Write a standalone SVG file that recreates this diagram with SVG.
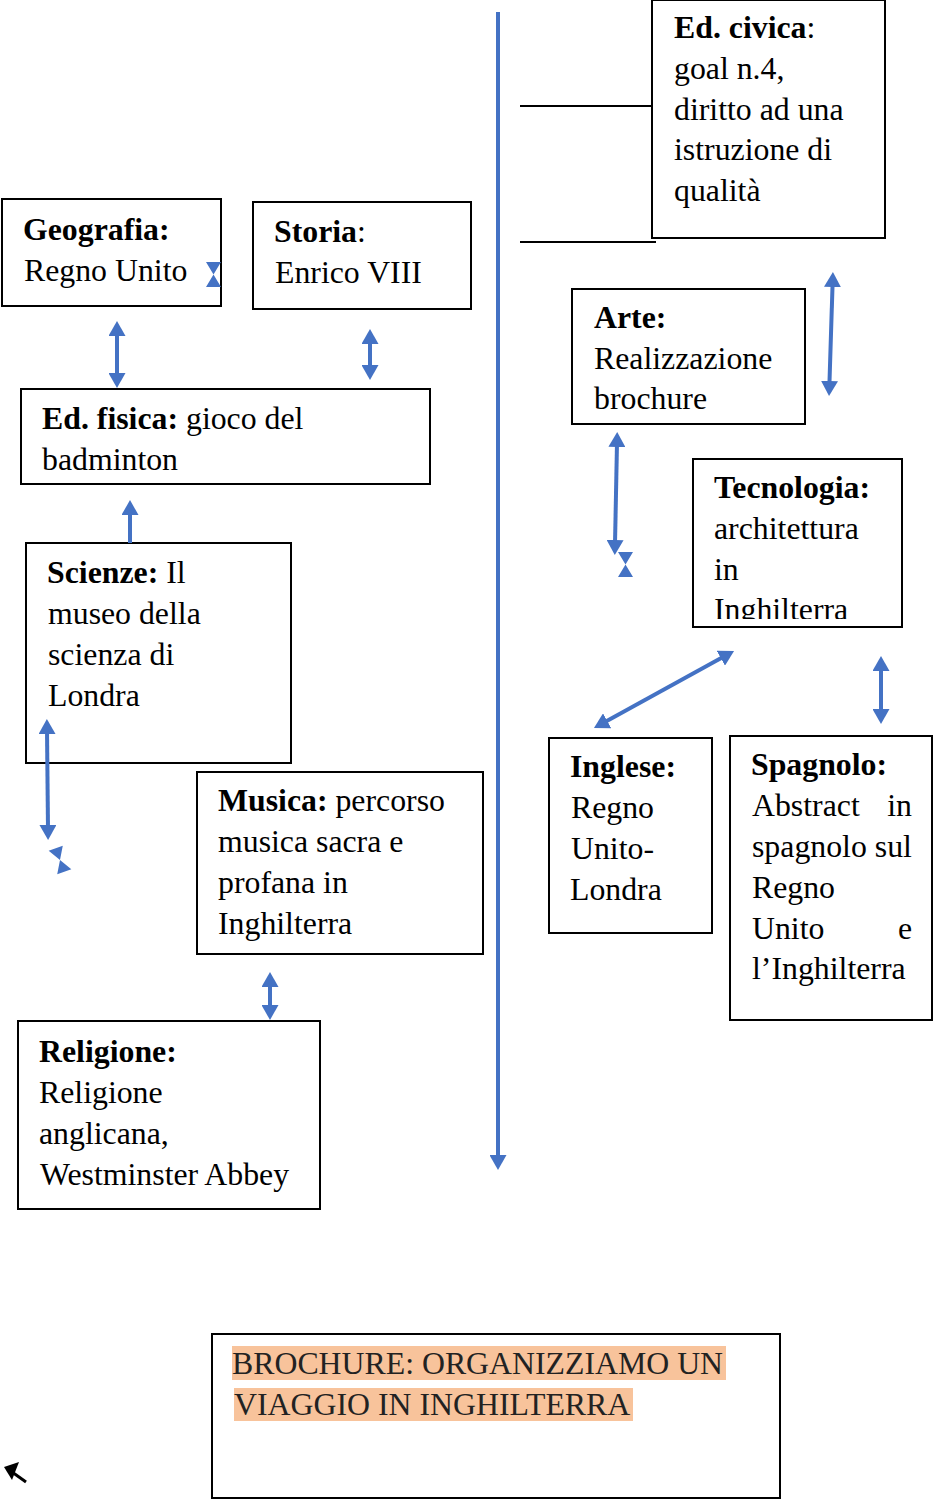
<svg xmlns="http://www.w3.org/2000/svg" width="934" height="1500" viewBox="0 0 934 1500">
<style>
  .box{fill:#fff;stroke:#000;stroke-width:2}
  .t{font-family:"Liberation Serif","Times New Roman",serif;font-size:31.8px;fill:#000}
  .b{font-weight:bold}
  .arr{stroke:#4472C4;stroke-width:4;fill:none}
  .blue{fill:#4472C4}
  .hl{fill:#F8C39B}
</style>
<defs>
  <marker id="ah" viewBox="0 0 15 17" markerWidth="15" markerHeight="17" refX="4" refY="8.5" orient="auto-start-reverse" markerUnits="userSpaceOnUse">
    <path d="M0,0 L15,8.5 L0,17 z" fill="#4472C4"/>
  </marker>
  <clipPath id="tecClip"><rect x="693" y="459" width="209" height="160"/></clipPath>
</defs>

<g id="ed-civica">
  <rect class="box" x="652" y="0" width="233" height="238"/>
  <text class="t" x="674" y="38"><tspan class="b">Ed. civica</tspan>:</text>
  <text class="t" x="674" y="79">goal n.4,</text>
  <text class="t" x="674" y="120">diritto ad una</text>
  <text class="t" x="674" y="160">istruzione di</text>
  <text class="t" x="674" y="201">qualità</text>
</g>
<g id="geografia">
  <rect class="box" x="2" y="199" width="219" height="107"/>
  <text class="t b" x="23" y="240">Geografia:</text>
  <text class="t" x="24" y="281">Regno Unito</text>
</g>
<g id="storia">
  <rect class="box" x="253" y="202" width="218" height="107"/>
  <text class="t" x="274" y="242"><tspan class="b">Storia</tspan>:</text>
  <text class="t" x="275" y="283">Enrico VIII</text>
</g>
<g id="arte">
  <rect class="box" x="572" y="289" width="233" height="135"/>
  <text class="t b" x="594" y="328">Arte:</text>
  <text class="t" x="594" y="369">Realizzazione</text>
  <text class="t" x="594" y="409">brochure</text>
</g>
<g id="ed-fisica">
  <rect class="box" x="21" y="389" width="409" height="95"/>
  <text class="t" x="42" y="429"><tspan class="b">Ed. fisica:</tspan> gioco del</text>
  <text class="t" x="42" y="470">badminton</text>
</g>
<g id="tecnologia">
  <rect class="box" x="693" y="459" width="209" height="168"/>
  <g clip-path="url(#tecClip)">
    <text class="t b" x="714" y="498">Tecnologia:</text>
    <text class="t" x="714" y="539">architettura</text>
    <text class="t" x="714" y="580">in</text>
    <text class="t" x="714" y="620">Inghilterra</text>
  </g>
</g>
<g id="scienze">
  <rect class="box" x="26" y="543" width="265" height="220"/>
  <text class="t" x="47" y="583"><tspan class="b">Scienze:</tspan> Il</text>
  <text class="t" x="48" y="624">museo della</text>
  <text class="t" x="48" y="665">scienza di</text>
  <text class="t" x="48" y="706">Londra</text>
</g>
<g id="inglese">
  <rect class="box" x="549" y="738" width="163" height="195"/>
  <text class="t b" x="570" y="777">Inglese:</text>
  <text class="t" x="571" y="818">Regno</text>
  <text class="t" x="571" y="859">Unito-</text>
  <text class="t" x="570" y="900">Londra</text>
</g>
<g id="spagnolo">
  <rect class="box" x="730" y="736" width="202" height="284"/>
  <text class="t b" x="751" y="775">Spagnolo:</text>
  <text class="t" x="752" y="816">Abstract</text>
  <text class="t" x="912" y="816" text-anchor="end">in</text>
  <text class="t" x="752" y="857">spagnolo sul</text>
  <text class="t" x="752" y="898">Regno</text>
  <text class="t" x="752" y="939">Unito</text>
  <text class="t" x="912" y="939" text-anchor="end">e</text>
  <text class="t" x="752" y="979">l’Inghilterra</text>
</g>
<g id="musica">
  <rect class="box" x="197" y="772" width="286" height="182"/>
  <text class="t" x="218" y="811"><tspan class="b">Musica:</tspan> percorso</text>
  <text class="t" x="218" y="852">musica sacra e</text>
  <text class="t" x="218" y="893">profana in</text>
  <text class="t" x="218" y="934">Inghilterra</text>
</g>
<g id="religione">
  <rect class="box" x="18" y="1021" width="302" height="188"/>
  <text class="t b" x="39" y="1062">Religione:</text>
  <text class="t" x="39" y="1103">Religione</text>
  <text class="t" x="39" y="1144">anglicana,</text>
  <text class="t" x="40" y="1185">Westminster Abbey</text>
</g>
<g id="brochure">
  <rect class="box" x="212" y="1334" width="568" height="164"/>
  <rect class="hl" x="232" y="1346" width="494" height="34"/>
  <rect class="hl" x="234" y="1388" width="399" height="33"/>
  <text class="t" x="232" y="1374" style="fill:#222">BROCHURE: ORGANIZZIAMO UN</text>
  <text class="t" x="234" y="1415" style="fill:#222">VIAGGIO IN INGHILTERRA</text>
</g>

<g id="connectors">
  <line x1="520" y1="106" x2="652" y2="106" stroke="#000" stroke-width="2"/>
  <line x1="520" y1="242" x2="656" y2="242" stroke="#000" stroke-width="2"/>
  <line class="arr" x1="498" y1="12" x2="498" y2="1159" marker-end="url(#ah)"/>
  <line class="arr" x1="117" y1="332" x2="117" y2="377" marker-start="url(#ah)" marker-end="url(#ah)"/>
  <line class="arr" x1="370" y1="340" x2="370" y2="369" marker-start="url(#ah)" marker-end="url(#ah)"/>
  <line class="arr" x1="130" y1="543" x2="130" y2="511" marker-end="url(#ah)"/>
  <line class="arr" x1="47" y1="730" x2="48" y2="829" marker-start="url(#ah)" marker-end="url(#ah)"/>
  <line class="arr" x1="270" y1="983" x2="270" y2="1009" marker-start="url(#ah)" marker-end="url(#ah)"/>
  <line class="arr" x1="832.6" y1="283" x2="829.4" y2="385" marker-start="url(#ah)" marker-end="url(#ah)"/>
  <line class="arr" x1="617" y1="443" x2="615" y2="544" marker-start="url(#ah)" marker-end="url(#ah)"/>
  <line class="arr" x1="603.6" y1="722.7" x2="724.4" y2="656.3" marker-start="url(#ah)" marker-end="url(#ah)"/>
  <line class="arr" x1="881" y1="667" x2="881" y2="713" marker-start="url(#ah)" marker-end="url(#ah)"/>
  <path class="blue" d="M206,262 L221,262 L213.5,274.5 Z M206,287 L221,287 L213.5,274.5 Z"/>
  <path class="blue" d="M618,552 L633,552 L625.5,564.5 Z M618,577 L633,577 L625.5,564.5 Z"/>
  <path class="blue" transform="rotate(-20 60 860)" d="M52.5,847.5 L67.5,847.5 L60,860 Z M52.5,872.5 L67.5,872.5 L60,860 Z"/>
  <line x1="26" y1="1482" x2="12" y2="1472" stroke="#000" stroke-width="3"/>
  <path d="M4,1467 L19,1462 L12,1480 Z" fill="#000"/>
</g>
</svg>
